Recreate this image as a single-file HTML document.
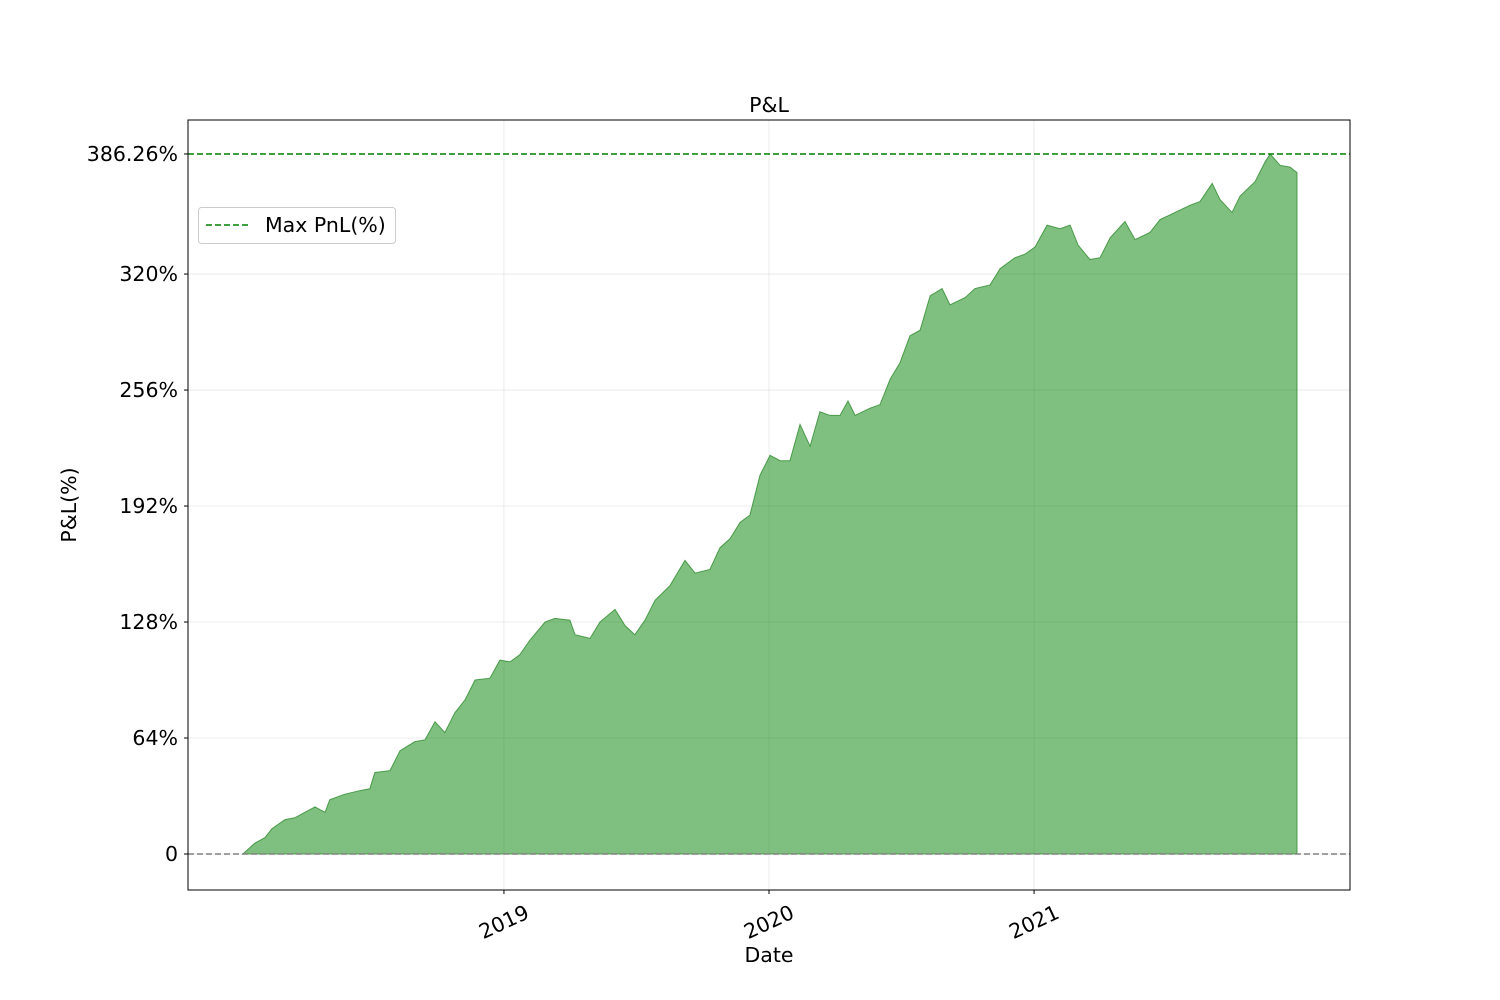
<!DOCTYPE html>
<html><head><meta charset="utf-8"><style>
body{margin:0;background:#fff;}
svg{display:block;font-family:"DejaVu Sans","Liberation Sans",sans-serif;}
</style></head><body>
<svg id="chart" width="1500" height="1000"></svg>
<script>
const dates=[2018.015,2018.060,2018.098,2018.125,2018.174,2018.211,2018.249,2018.287,2018.325,2018.343,2018.400,2018.457,2018.494,2018.513,2018.570,2018.608,2018.664,2018.702,2018.740,2018.777,2018.815,2018.853,2018.891,2018.947,2018.985,2019.023,2019.060,2019.098,2019.155,2019.192,2019.249,2019.268,2019.325,2019.362,2019.419,2019.457,2019.494,2019.532,2019.570,2019.626,2019.683,2019.721,2019.777,2019.815,2019.853,2019.891,2019.928,2019.966,2020.004,2020.042,2020.079,2020.117,2020.155,2020.192,2020.230,2020.268,2020.298,2020.325,2020.381,2020.419,2020.457,2020.494,2020.532,2020.570,2020.608,2020.653,2020.683,2020.740,2020.777,2020.834,2020.872,2020.928,2020.966,2021.004,2021.049,2021.098,2021.136,2021.166,2021.211,2021.249,2021.287,2021.343,2021.381,2021.438,2021.475,2021.532,2021.589,2021.626,2021.672,2021.702,2021.747,2021.777,2021.834,2021.872,2021.891,2021.928,2021.966,2021.992];
const pnl=[0,6,9,14,19,20,23,26,23,30,33,35,36,45,46,57,62,63,73,67,78,85,96,97,107,106,110,118,128,130,129,121,119,128,135,126,121,129,140,148,162,155,157,169,174,183,187,209,220,217,217,237,225,244,242,242,250,242,246,248,262,271,286,289,308,312,303,307,312,314,323,329,331,335,347,345,347,336,328,329,340,349,339,343,350,354,358,360,370,361,354,363,371,382,386.26,380,379,376];
const yTicks=[0,64,128,192,256,320];
const xTicks=[2019,2020,2021];
const xTickLabels=["2019","2020","2021"];

const L=188,R=1350,T=120,B=890;
const xMin=2017.808,xMax=2022.192;
const yMin=-19.86,yMax=405;
const X=v=>L+(v-xMin)/(xMax-xMin)*(R-L);
const Y=v=>B-(v-yMin)/(yMax-yMin)*(B-T);
const svg=document.getElementById('chart');
const NS='http://www.w3.org/2000/svg';
function mk(tag,attrs,parent){const e=document.createElementNS(NS,tag);for(const k in attrs)e.setAttribute(k,attrs[k]);(parent||svg).appendChild(e);return e;}
const FS='20.5px';

yTicks.forEach(t=>{const g=mk('line',{x1:L,x2:R,y1:Y(t),y2:Y(t),stroke:'#b0b0b0','stroke-width':0.8,'stroke-opacity':0.3});

});
xTicks.forEach(t=>{const g=mk('line',{x1:X(t),x2:X(t),y1:T,y2:B,stroke:'#b0b0b0','stroke-width':0.8,'stroke-opacity':0.3});

});

let d='M'+X(dates[0])+','+Y(0);
dates.forEach((t,i)=>{d+=' L'+X(t)+','+Y(pnl[i]);});
d+=' L'+X(dates[dates.length-1])+','+Y(0)+' Z';
const area=mk('path',{d:d,fill:'#008000','fill-opacity':0.5,stroke:'#2e8b2e','stroke-opacity':0.8,'stroke-width':1});



const z=mk('line',{x1:L,x2:R,y1:Y(0),y2:Y(0),stroke:'#808080','stroke-width':1.5,'stroke-dasharray':'6,3'});


const maxV=Math.max(...pnl);
const ml=mk('line',{x1:L,x2:R,y1:Y(maxV),y2:Y(maxV),stroke:'#008000','stroke-width':1.5,'stroke-dasharray':'6,3'});



const fr=mk('rect',{x:L,y:T,width:R-L,height:B-T,fill:'none',stroke:'#000','stroke-width':1});



const yAll=yTicks.map(t=>[t,String(t===0?'0':t+'%')]).concat([[maxV,maxV.toFixed(2)+'%']]);
yAll.forEach(([t,lab])=>{
  mk('line',{x1:L-4,x2:L,y1:Y(t),y2:Y(t),stroke:'#000','stroke-width':1});
  const tx=mk('text',{x:L-10,y:Y(t)+7,'text-anchor':'end','font-size':FS,fill:'#000'});
  tx.textContent=lab;
  
  
});
xTicks.forEach((t,i)=>{
  mk('line',{x1:X(t),x2:X(t),y1:B,y2:B+4,stroke:'#000','stroke-width':1});
  const x=X(t),y=B+32;
  const tx=mk('text',{x:x,y:y+7,'text-anchor':'middle','font-size':FS,fill:'#000',transform:`rotate(-25 ${x} ${y})`});
  tx.textContent=xTickLabels[i];
  
  
});
let t1=mk('text',{x:(L+R)/2,y:112,'text-anchor':'middle','font-size':FS});t1.textContent='P&L';


let t2=mk('text',{x:(L+R)/2,y:962,'text-anchor':'middle','font-size':FS});t2.textContent='Date';


let t3=mk('text',{x:76,y:(T+B)/2,'text-anchor':'middle','font-size':FS,transform:`rotate(-90 76 ${(T+B)/2})`});t3.textContent='P&L(%)';


const lg=mk('g',{});


mk('rect',{x:198.5,y:207.5,width:197,height:36,rx:3,fill:'#fff','fill-opacity':0.8,stroke:'#ccc','stroke-width':1},lg);
mk('line',{x1:206,x2:248,y1:225,y2:225,stroke:'#008000','stroke-width':1.5,'stroke-dasharray':'6,3'},lg);
const lt=mk('text',{x:265,y:232,'font-size':FS},lg);lt.textContent='Max PnL(%)';


</script>
</body></html>
